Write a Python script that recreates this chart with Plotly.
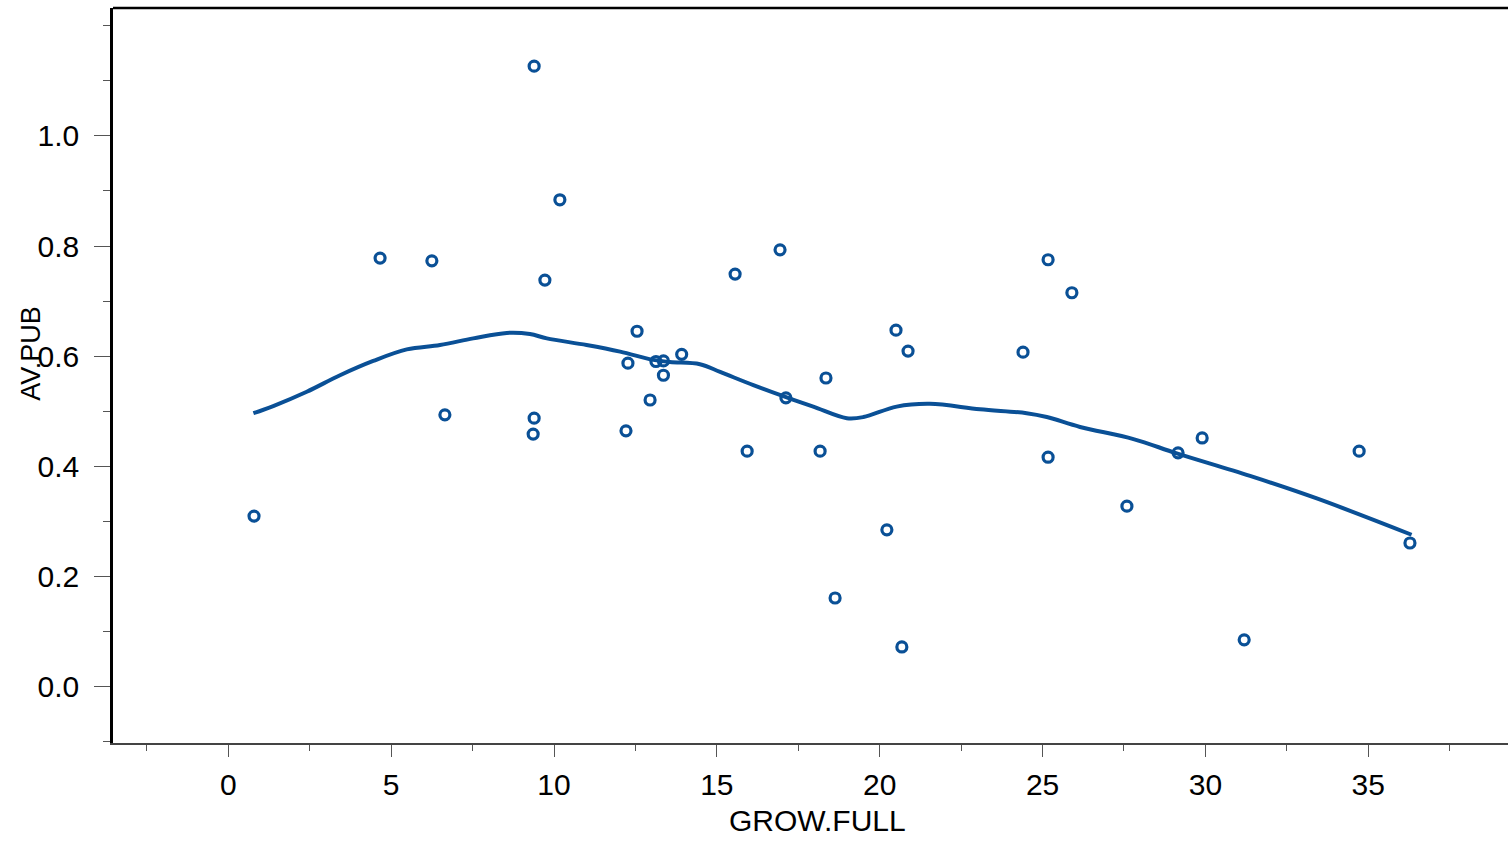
import plotly.graph_objects as go

# Scatter data (GROW.FULL vs AV.PUB)
grow_full = [0.79, 4.66, 6.25, 6.65, 9.39, 9.39, 9.36, 9.72, 10.18, 12.21,
             12.27, 12.55, 12.95, 13.13, 13.36, 13.36, 13.92, 15.56, 15.93, 16.94,
             17.12, 18.17, 18.35, 18.63, 20.22, 20.50, 20.68, 20.87, 24.40, 25.17,
             25.17, 25.90, 27.59, 29.16, 29.90, 31.19, 34.72, 36.28]
av_pub = [0.309, 0.778, 0.773, 0.493, 1.127, 0.487, 0.458, 0.738, 0.884, 0.464,
          0.587, 0.645, 0.520, 0.590, 0.591, 0.565, 0.603, 0.749, 0.427, 0.793,
          0.524, 0.427, 0.560, 0.160, 0.284, 0.647, 0.071, 0.609, 0.607, 0.775,
          0.416, 0.715, 0.327, 0.424, 0.451, 0.084, 0.427, 0.260]

# Smoothed (loess) curve
smooth_x = [0.77, 1.38, 2.41, 3.43, 4.45, 5.48, 6.50, 7.52, 8.55, 9.26, 9.78,
            11.00, 12.03, 13.05, 13.56, 14.48, 15.10, 16.12, 17.04, 17.96, 18.99,
            19.50, 20.52, 21.54, 23.08, 24.51, 25.13, 26.15, 27.79, 29.12, 31.37,
            33.42, 36.33]
smooth_y = [0.496, 0.509, 0.535, 0.565, 0.591, 0.612, 0.620, 0.632, 0.642, 0.640,
            0.632, 0.620, 0.608, 0.593, 0.589, 0.585, 0.571, 0.547, 0.527, 0.508,
            0.487, 0.489, 0.508, 0.513, 0.503, 0.496, 0.489, 0.471, 0.449, 0.423,
            0.382, 0.341, 0.275]

x_ticks = [0, 5, 10, 15, 20, 25, 30, 35]
y_ticks = [0.0, 0.2, 0.4, 0.6, 0.8, 1.0]
y_tick_labels = ["0.0", "0.2", "0.4", "0.6", "0.8", "1.0"]

blue = "#0a5096"
font_family = "Liberation Sans, Arial, sans-serif"

fig = go.Figure()
fig.add_trace(go.Scatter(x=smooth_x, y=smooth_y, mode="lines",
                         line=dict(color=blue, width=4, shape="spline"),
                         hoverinfo="skip", showlegend=False))
fig.add_trace(go.Scatter(x=grow_full, y=av_pub, mode="markers",
                         marker=dict(symbol="circle-open", size=10, color=blue,
                                     line=dict(color=blue, width=3.2)),
                         showlegend=False))

fig.update_layout(
    width=1509, height=841,
    margin=dict(l=113, r=1, t=8, b=98),
    paper_bgcolor="white", plot_bgcolor="white",
    font=dict(family=font_family, size=30, color="black"),
    xaxis=dict(range=[-3.54, 39.29], tickvals=x_ticks,
               ticks="outside", ticklen=12, tickwidth=1.3, tickcolor="#555",
               minor=dict(dtick=2.5, tick0=0, ticks="outside", ticklen=6,
                          tickwidth=1.3, tickcolor="#555"),
               showline=True, linecolor="#444", linewidth=2,
               showgrid=False, zeroline=False,
               tickfont=dict(size=30), ticklabelstandoff=2),
    yaxis=dict(range=[-0.1036, 1.2327], tickvals=y_ticks, ticktext=y_tick_labels,
               ticks="outside", ticklen=16, tickwidth=1.3, tickcolor="#555",
               minor=dict(dtick=0.1, tick0=0, ticks="outside", ticklen=7,
                          tickwidth=1.3, tickcolor="#555"),
               showline=True, linecolor="black", linewidth=2.5,
               showgrid=False, zeroline=False,
               tickfont=dict(size=30), ticklabelstandoff=9),
    shapes=[dict(type="line", xref="paper", yref="paper", x0=0, x1=1, y0=1, y1=1,
                 line=dict(color="black", width=2.5))],
    annotations=[
        dict(text="GROW.FULL", xref="paper", yref="paper", x=0.505, y=-0.1305,
             xanchor="center", yanchor="bottom", showarrow=False,
             font=dict(size=30)),
        dict(text="AV.PUB", xref="paper", yref="paper", x=-0.0585, y=0.53,
             xanchor="center", yanchor="middle", textangle=-90, showarrow=False,
             font=dict(size=27)),
    ],
)

fig.write_html("out.html")
